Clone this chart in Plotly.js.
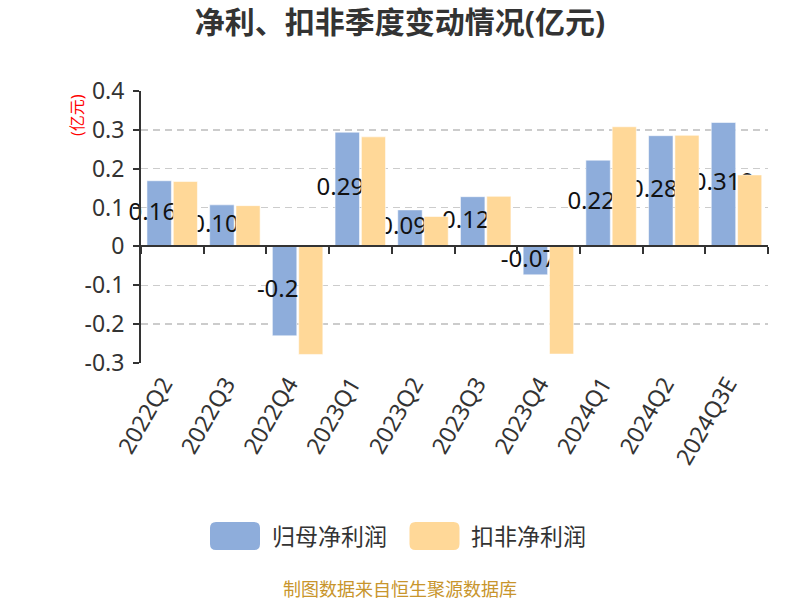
<!DOCTYPE html>
<html>
<head>
<meta charset="utf-8">
<script src="https://cdn.plot.ly/plotly-3.0.1.min.js"></script>
<style>html,body{margin:0;padding:0;background:#fff;}#chart{width:800px;height:600px;}</style>
</head>
<body>
<div id="chart"></div>
<script>
// ---- data ----
var categories = ['2022Q2','2022Q3','2022Q4','2023Q1','2023Q2','2023Q3','2023Q4','2024Q1','2024Q2','2024Q3E'];
var netProfit = [0.169, 0.107, -0.23, 0.294, 0.094, 0.128, -0.073, 0.222, 0.285, 0.319];
var deductedProfit = [0.167, 0.105, -0.278, 0.282, 0.077, 0.129, -0.277, 0.308, 0.286, 0.184];
var seriesNames = ['归母净利润', '扣非净利润'];
var yTickVals = [0.4, 0.3, 0.2, 0.1, 0, -0.1, -0.2, -0.3];
var yTickText = ['0.4', '0.3', '0.2', '0.1', '0', '-0.1', '-0.2', '-0.3'];
var titleText = '净利、扣非季度变动情况(亿元)';
var unitText = '(亿元)';
var sourceText = '制图数据来自恒生聚源数据库';

// ---- styling ----
var FONT = 'Noto Sans, Noto Sans CJK SC, sans-serif';
var BLUE = '#8eaddb';
var ORANGE = '#ffd898';
var idx = categories.map(function(c, i){ return i; });
var boundaries = [];
for (var b = 0; b <= categories.length; b++) boundaries.push(b - 0.5);
var BW = 0.39, BLUE_OFF = -0.405, ORANGE_OFF = 0.015;

var traces = [
  {
    type: 'bar', name: seriesNames[0], x: idx, y: netProfit,
    xaxis: 'x', yaxis: 'y',
    width: BW, offset: BLUE_OFF,
    marker: {color: BLUE, line: {color: 'rgba(255,255,255,0.55)', width: 1}},
    hoverinfo: 'y', showlegend: false
  },
  {
    type: 'scatter', mode: 'text', x: idx.map(function(i){ return i + BLUE_OFF + BW / 2; }),
    y: netProfit.map(function(v){ return v / 2; }),
    text: netProfit.map(function(v){ return String(v); }),
    textposition: 'middle center', cliponaxis: false,
    textfont: {family: FONT, size: 24, color: '#111'},
    xaxis: 'x', yaxis: 'y', hoverinfo: 'skip', showlegend: false
  },
  {
    type: 'bar', name: seriesNames[1], x: idx, y: deductedProfit,
    xaxis: 'x2', yaxis: 'y',
    width: BW - 0.005, offset: ORANGE_OFF,
    marker: {color: ORANGE, line: {color: 'rgba(255,255,255,0.55)', width: 1}},
    hoverinfo: 'y', showlegend: false
  }
];

var L = 141, R = 32, T = 91, B = 237;
var plotW = 800 - L - R, plotH = 600 - T - B;
function px2x(px){ return (px - L) / plotW; }
function py2y(py){ return (600 - B - py) / plotH; }
var zeroFrac = (0 - yTickVals[yTickVals.length - 1]) / (yTickVals[0] - yTickVals[yTickVals.length - 1]);

var legendY = py2y(536);
var swatch = function(cx, color){
  return {
    type: 'path', xref: 'paper', yref: 'paper', xsizemode: 'pixel', ysizemode: 'pixel',
    xanchor: px2x(cx), yanchor: legendY,
    path: 'M -19 -14 L 19 -14 Q 25 -14 25 -8 L 25 8 Q 25 14 19 14 L -19 14 Q -25 14 -25 8 L -25 -8 Q -25 -14 -19 -14 Z',
    fillcolor: color, line: {width: 0}
  };
};

var layout = {
  width: 800, height: 600,
  margin: {l: L, r: R, t: T, b: B},
  paper_bgcolor: '#fff', plot_bgcolor: '#fff',
  font: {family: FONT, color: '#333'},
  title: {text: '<b>' + titleText + '</b>', x: 0.5, xref: 'container', xanchor: 'center',
          y: 1 - 22 / 600, yref: 'container', yanchor: 'middle',
          font: {family: FONT, size: 30, color: '#333'}},
  showlegend: false,
  barmode: 'overlay',
  xaxis: {
    type: 'linear', range: [-0.5, categories.length - 0.5],
    tickmode: 'array', tickvals: idx, ticktext: categories,
    tickangle: -60, ticks: '', showline: false, showgrid: false, zeroline: false,
    tickfont: {family: FONT, size: 23, color: '#333'}, ticklabelstandoff: 2, ticklabelshift: -9,
    fixedrange: true
  },
  xaxis2: {
    type: 'linear', overlaying: 'x', anchor: 'free', position: zeroFrac,
    range: [-0.5, categories.length - 0.5],
    tickmode: 'array', tickvals: boundaries, showticklabels: false,
    ticks: 'outside', ticklen: 7, tickwidth: 2, tickcolor: '#333',
    showline: true, linecolor: '#333', linewidth: 2,
    showgrid: false, zeroline: false, fixedrange: true
  },
  yaxis: {
    range: [yTickVals[yTickVals.length - 1], yTickVals[0]],
    tickmode: 'array', tickvals: yTickVals, ticktext: yTickText,
    ticks: 'outside', ticklen: 6, tickwidth: 2, tickcolor: '#333',
    showline: true, linecolor: '#333', linewidth: 2,
    showgrid: true, gridcolor: '#cccccc', gridwidth: 1.5, griddash: '7px,5px',
    zeroline: false, ticklabelstandoff: 4,
    tickfont: {family: FONT, size: 23, color: '#333'}, fixedrange: true
  },
  shapes: [swatch(235, BLUE), swatch(434.5, ORANGE)],
  annotations: [
    {text: unitText, xref: 'paper', yref: 'paper', x: px2x(77), y: py2y(115),
     textangle: -90, showarrow: false, xanchor: 'center', yanchor: 'middle',
     font: {family: FONT, size: 16, color: '#ff0000'}},
    {text: seriesNames[0], xref: 'paper', yref: 'paper', x: px2x(270), y: legendY,
     showarrow: false, xanchor: 'left', yanchor: 'middle',
     font: {family: FONT, size: 23, color: '#333'}},
    {text: seriesNames[1], xref: 'paper', yref: 'paper', x: px2x(469), y: legendY,
     showarrow: false, xanchor: 'left', yanchor: 'middle',
     font: {family: FONT, size: 23, color: '#333'}},
    {text: sourceText, xref: 'paper', yref: 'paper', x: px2x(400), y: py2y(589),
     showarrow: false, xanchor: 'center', yanchor: 'middle',
     font: {family: FONT, size: 18, color: '#c8952c'}}
  ]
};

Plotly.newPlot('chart', traces, layout, {displayModeBar: false, staticPlot: true});
</script>
</body>
</html>
